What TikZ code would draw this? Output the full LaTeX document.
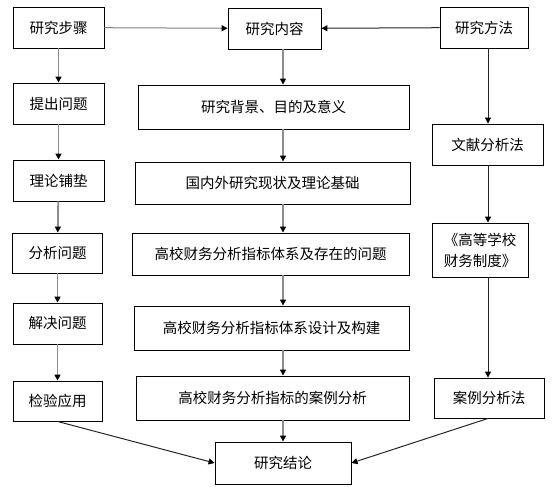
\documentclass[tikz,border=0pt]{standalone}
\usepackage{fontspec}
\setmainfont{Noto Sans CJK SC}
\usetikzlibrary{arrows.meta}
\begin{document}
\begin{tikzpicture}[x=1pt,y=-1pt,
  box/.style={draw, line width=0.9pt, inner sep=0pt, font=\fontsize{14.5}{21}\selectfont},
  flow/.style={-{Triangle[width=6pt,length=6pt,color=black]}, line width=1.8pt, draw=gray!90},
  thinflow/.style={-{Triangle[width=6pt,length=6pt,color=black]}, line width=1pt, draw=black!85}]
  \useasboundingbox (0,0) rectangle (557,487);
  % left column: steps
  \node [box, minimum width=91pt, minimum height=41pt] (s1) at (58.5,27.5) {研究步骤};
  \node [box, minimum width=91pt, minimum height=41pt] (s2) at (58.5,103.5) {提出问题};
  \node [box, minimum width=91pt, minimum height=41pt] (s3) at (58.5,180.5) {理论铺垫};
  \node [box, minimum width=90pt, minimum height=40pt] (s4) at (57.5,253) {分析问题};
  \node [box, minimum width=89pt, minimum height=41pt] (s5) at (57.5,323.5) {解决问题};
  \node [box, minimum width=89pt, minimum height=40pt] (s6) at (57.5,401) {检验应用};
  % middle column: contents
  \node [box, minimum width=93pt, minimum height=41pt] (c0) at (274.5,28.5) {研究内容};
  \node [box, minimum width=271pt, minimum height=44pt] (c1) at (273.5,107) {研究背景、目的及意义};
  \node [box, minimum width=275pt, minimum height=42pt] (c2) at (272.5,183) {国内外研究现状及理论基础};
  \node [box, minimum width=277pt, minimum height=42pt] (c3) at (270.5,254) {高校财务分析指标体系及存在的问题};
  \node [box, minimum width=275pt, minimum height=44pt] (c4) at (271.5,328) {高校财务分析指标体系设计及构建};
  \node [box, minimum width=273pt, minimum height=44pt] (c5) at (272.5,398) {高校财务分析指标的案例分析};
  \node [box, minimum width=136pt, minimum height=42pt] (c6) at (283,463) {研究结论};
  % right column: methods
  \node [box, minimum width=88pt, minimum height=41pt] (m0) at (484,27.5) {研究方法};
  \node [box, minimum width=111pt, minimum height=41pt] (m1) at (487.5,144.5) {文献分析法};
  \node [box, minimum width=96pt, minimum height=54pt, align=center] (m2) at (480,250) {《高等学校\\财务制度》};
  \node [box, minimum width=110pt, minimum height=40pt] (m3) at (489,398) {案例分析法};
  % arrows
  \foreach \a/\b in {s1/s2, s2/s3, s3/s4, s4/s5, s5/s6}
    \draw [flow] (\a) -- (\b);
  \foreach \a/\b in {c0/c1, c1/c2, c2/c3, c3/c4, c4/c5, c5/c6}
    \draw [flow] (\a.south-|283,0) -- (\b.north-|283,0);
  \foreach \a/\b in {m0/m1, m1/m2, m2/m3}
    \draw [thinflow] (\a.south-|488,0) -- (\b.north-|488,0);
  \draw [thinflow, draw=gray] (s1) -- (c0);
  \draw [thinflow] (m0) -- (c0);
  \draw [thinflow] (s6.south) -- (c6.west);
  \draw [thinflow] (m3.south-|488,0) -- (c6.east);
\end{tikzpicture}
\end{document}
